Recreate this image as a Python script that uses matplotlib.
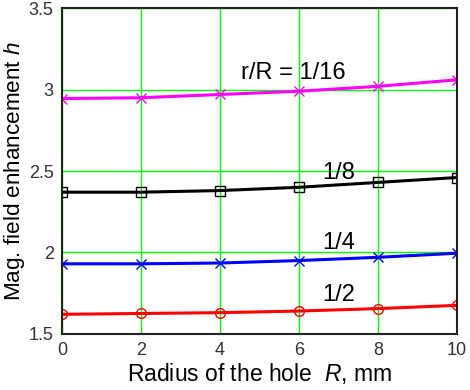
import numpy as np
import matplotlib
matplotlib.use('Agg')
import matplotlib.pyplot as plt

plt.rcParams['font.family'] = 'Liberation Sans'
plt.rcParams['mathtext.fontset'] = 'custom'
plt.rcParams['mathtext.it'] = 'Liberation Sans:italic'
plt.rcParams['mathtext.rm'] = 'Liberation Sans'

# radius of the hole R, mm
radius = [0, 2, 4, 6, 8, 10]
# field enhancement for each r/R
h_16 = [2.945, 2.95, 2.97, 2.99, 3.02, 3.06]
h_8 = [2.37, 2.37, 2.38, 2.40, 2.43, 2.46]
h_4 = [1.93, 1.93, 1.935, 1.95, 1.97, 1.995]
h_2 = [1.62, 1.625, 1.63, 1.64, 1.655, 1.675]

labels = ['r/R = 1/16', '1/8', '1/4', '1/2']
label_pos = [(5.85, 3.10), (7.0, 2.49), (7.0, 2.055), (7.0, 1.74)]

fig = plt.figure(figsize=(4.7, 3.9), dpi=100)
ax = fig.add_axes([0.132, 0.144, 0.840, 0.835])

ax.plot(radius, h_16, color='#ff00ff', lw=2.2, marker='x', ms=7, mew=1)
ax.plot(radius, h_8, color='black', lw=2.2, marker='s', ms=7, mfc='none', mew=1)
ax.plot(radius, h_4, color='blue', lw=2.2, marker='x', ms=7, mew=1)
ax.plot(radius, h_2, color='red', lw=2.2, marker='o', ms=7, mfc='none', mew=1)

for txt, (x, y) in zip(labels, label_pos):
    ax.text(x, y, txt, fontsize=17, ha='center', va='center')

ax.set_xlim(0, 10)
ax.set_ylim(1.5, 3.5)
ax.set_xticks([0, 2, 4, 6, 8, 10])
ax.set_yticks([1.5, 2, 2.5, 3, 3.5])
ax.set_yticklabels(['1.5', '2', '2.5', '3', '3.5'])
ax.grid(True, color='#00ff00', lw=1)
ax.tick_params(length=0, labelsize=13, labelcolor='#333333', pad=6)
for s in ax.spines.values():
    s.set_linewidth(1.5)
    s.set_color('#222222')

ax.set_xlabel('Radius of the hole  $R$, mm', fontsize=16.5, labelpad=1)
ax.set_ylabel('Mag. field enhancement $h$', fontsize=16.2)
ax.yaxis.set_label_coords(-0.088, 0.5)

fig.savefig('out.png', dpi=100)
